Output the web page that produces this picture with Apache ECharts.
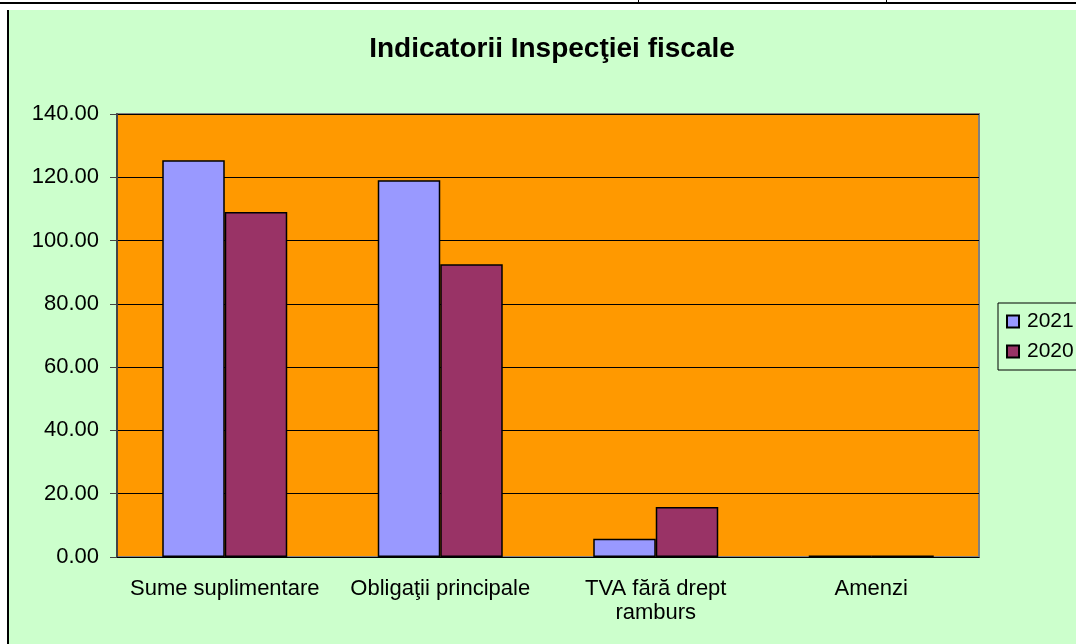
<!DOCTYPE html>
<html>
<head>
<meta charset="utf-8">
<script src="https://cdn.jsdelivr.net/npm/echarts@6/dist/echarts.min.js"></script>
<style>
  html, body { margin: 0; padding: 0; background: #fff; overflow: hidden; }
  #topline { position: absolute; left: 0; top: 2px; width: 1076px; height: 2px; background: #000; }
  .tick { position: absolute; top: 0; width: 1px; height: 3px; background: #000; }
  #panel { position: absolute; left: 7px; top: 10px; width: 1069px; height: 634px;
           background: #CCFFCC; border-left: 2px solid #000; box-sizing: border-box; }
  #chart { position: absolute; left: 0; top: 0; width: 1076px; height: 644px; }
</style>
</head>
<body>
<div id="topline"></div>
<div class="tick" style="left:638px"></div>
<div class="tick" style="left:886px"></div>
<div id="panel"></div>
<div id="chart"></div>
<script>
var categories = ['Sume suplimentare', 'Obligaţii principale', 'TVA fără drept\nramburs', 'Amenzi']
var years = ['2021', '2020']
var v2021 = [125.4, 119.1, 5.8, 0.5]
var v2020 = [109.0, 92.5, 15.8, 0.5]
var yMin = 0, yMax = 140, yStep = 20

var font = 'Liberation Sans, Arial, sans-serif'
var chart = echarts.init(document.getElementById('chart'))
chart.setOption({
  backgroundColor: 'transparent',
  animation: false,
  textStyle: { fontFamily: font },
  title: {
    text: 'Indicatorii Inspecţiei fiscale',
    left: 547, top: 30, textAlign: 'center',
    textStyle: { fontFamily: font, fontSize: 28, fontWeight: 'bold', color: '#000' }
  },
  legend: {
    orient: 'vertical', left: 998, top: 303,
    data: years,
    backgroundColor: '#CCFFCC', borderColor: '#000', borderWidth: 1,
    padding: [8, 40, 8, 8],
    itemWidth: 12, itemHeight: 12, itemGap: 9,
    icon: 'rect',
    textStyle: { fontFamily: font, fontSize: 21, color: '#000', padding: [0, 0, 0, 3] }
  },
  grid: {
    left: 117, top: 114, width: 862, height: 443,
    show: true, backgroundColor: '#FF9900', borderColor: '#808080', borderWidth: 2
  },
  xAxis: {
    type: 'category', data: categories,
    axisLine: { lineStyle: { color: '#000', width: 1 } },
    axisTick: { length: 6, lineStyle: { color: '#000' } },
    axisLabel: { margin: 20, fontFamily: font, fontSize: 22, color: '#000', lineHeight: 24, interval: 0 }
  },
  yAxis: {
    type: 'value', min: yMin, max: yMax, interval: yStep,
    axisLine: { show: true, lineStyle: { color: '#444', width: 2 } },
    axisTick: { show: true, length: 7, lineStyle: { color: '#444' } },
    splitLine: { lineStyle: { color: '#000', width: 1 } },
    axisLabel: {
      margin: 18, fontFamily: font, fontSize: 22, color: '#000',
      formatter: function (v) { return v.toFixed(2) }
    }
  },
  series: [
    { name: '2021', type: 'bar', data: v2021, barGap: '0%', barCategoryGap: '42%',
      itemStyle: { color: '#9999FF', borderColor: '#000', borderWidth: 1.5 } },
    { name: '2020', type: 'bar', data: v2020,
      itemStyle: { color: '#993366', borderColor: '#000', borderWidth: 1.5 } }
  ]
})
</script>
</body>
</html>
